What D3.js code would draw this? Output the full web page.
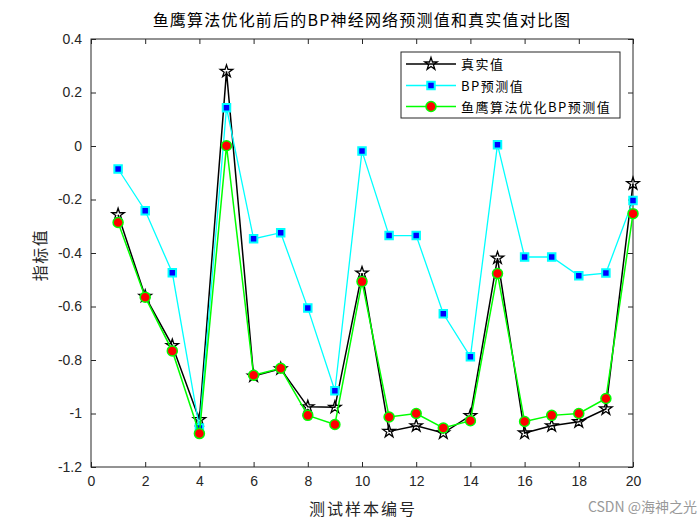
<!DOCTYPE html>
<html>
<head>
<meta charset="utf-8">
<script src="https://cdn.jsdelivr.net/npm/d3@7"></script>
<style>
  body { margin: 0; background: #fff; }
  text { font-family: "Liberation Sans", "Noto Sans CJK SC", sans-serif; }
  .cjk { font-family: "Noto Sans CJK SC", sans-serif; }
</style>
</head>
<body>
<div id="chart"></div>
<script>
// sample index
var samples = d3.range(1, 21);
// real values
var trueVals = [-0.257, -0.562, -0.746, -1.023, 0.279, -0.860, -0.833, -0.975, -0.977, -0.475,
  -1.067, -1.046, -1.073, -1.008, -0.419, -1.073, -1.046, -1.031, -0.983, -0.141];
// plain BP prediction
var bpVals = [-0.086, -0.242, -0.474, -1.054, 0.143, -0.347, -0.324, -0.606, -0.915, -0.019,
  -0.335, -0.335, -0.627, -0.788, 0.005, -0.415, -0.415, -0.485, -0.475, -0.204];
// optimised BP prediction
var optVals = [-0.286, -0.565, -0.766, -1.075, 0.001, -0.857, -0.831, -1.007, -1.041, -0.507,
  -1.013, -1.000, -1.054, -1.027, -0.477, -1.030, -1.007, -1.000, -0.944, -0.253];
var xTicks = d3.range(0, 21, 2);
var yTicks = [-1.2, -1, -0.8, -0.6, -0.4, -0.2, 0, 0.2, 0.4];
var legendNames = ['真实值', 'BP预测值', '鱼鹰算法优化BP预测值'];

var W = 700, H = 525;
var pl = 91, pr = 633, pt = 39, pb = 467;

var svg = d3.select('#chart').append('svg')
  .attr('width', W)
  .attr('height', H);

var x = d3.scaleLinear().domain([0, 20]).range([pl, pr]);
var y = d3.scaleLinear().domain([-1.2, 0.4]).range([pb, pt]);

// axes, ticks inward
var fmt = function(d) { return d === 0 ? '0' : String(+d.toFixed(1)); };
svg.append('g').attr('transform', 'translate(0,' + pb + ')')
  .call(d3.axisBottom(x).tickValues(xTicks).tickSizeInner(-5).tickSizeOuter(0).tickPadding(9))
  .call(function(g) { g.select('.domain').remove(); });
svg.append('g').attr('transform', 'translate(0,' + pt + ')')
  .call(d3.axisTop(x).tickValues(xTicks).tickSizeInner(-5).tickSizeOuter(0).tickFormat(''))
  .call(function(g) { g.select('.domain').remove(); });
svg.append('g').attr('transform', 'translate(' + pl + ',0)')
  .call(d3.axisLeft(y).tickValues(yTicks).tickSizeInner(-5).tickSizeOuter(0).tickPadding(9).tickFormat(fmt))
  .call(function(g) { g.select('.domain').remove(); });
svg.append('g').attr('transform', 'translate(' + pr + ',0)')
  .call(d3.axisRight(y).tickValues(yTicks).tickSizeInner(-5).tickSizeOuter(0).tickFormat(''))
  .call(function(g) { g.select('.domain').remove(); });
svg.selectAll('.tick text').attr('font-size', 14).attr('fill', '#262626');
svg.selectAll('.tick line').attr('stroke', '#262626');

svg.append('rect')
  .attr('x', pl).attr('y', pt)
  .attr('width', pr - pl).attr('height', pb - pt)
  .attr('fill', 'none').attr('stroke', '#262626').attr('stroke-width', 1);

var line = d3.line()
  .x(function(d, i) { return x(samples[i]); })
  .y(function(d) { return y(d); });

var star = d3.symbol().type(d3.symbolStar).size(48);
var square = d3.symbol().type(d3.symbolSquare).size(56);

// true values
svg.append('path').datum(trueVals)
  .attr('d', line).attr('fill', 'none').attr('stroke', '#000').attr('stroke-width', 1.5);
svg.selectAll('path.star').data(trueVals).enter().append('path')
  .attr('class', 'star')
  .attr('d', star)
  .attr('transform', function(d, i) { return 'translate(' + x(samples[i]) + ',' + y(d) + ')'; })
  .attr('fill', 'none').attr('stroke', '#000').attr('stroke-width', 1.3);

// BP predictions
svg.append('path').datum(bpVals)
  .attr('d', line).attr('fill', 'none').attr('stroke', '#00ffff').attr('stroke-width', 1.3);
svg.selectAll('path.sq').data(bpVals).enter().append('path')
  .attr('class', 'sq')
  .attr('d', square)
  .attr('transform', function(d, i) { return 'translate(' + x(samples[i]) + ',' + y(d) + ')'; })
  .attr('fill', '#0000ff').attr('stroke', '#00ffff').attr('stroke-width', 2);

// optimised predictions
svg.append('path').datum(optVals)
  .attr('d', line).attr('fill', 'none').attr('stroke', '#00ff00').attr('stroke-width', 1.5);
svg.selectAll('circle.opt').data(optVals).enter().append('circle')
  .attr('class', 'opt')
  .attr('cx', function(d, i) { return x(samples[i]); })
  .attr('cy', function(d) { return y(d); })
  .attr('r', 5)
  .attr('fill', '#ff0000').attr('stroke', '#00ff00').attr('stroke-width', 1.5);

// legend
var lg = svg.append('g');
lg.append('rect').attr('x', 401).attr('y', 52).attr('width', 219).attr('height', 66)
  .attr('fill', '#fff').attr('stroke', '#262626').attr('stroke-width', 1);
var lgY = [64, 85.5, 106.5];
lgY.forEach(function(yy, i) {
  var stroke = ['#000', '#00ffff', '#00ff00'][i];
  lg.append('line').attr('x1', 406).attr('x2', 456).attr('y1', yy).attr('y2', yy)
    .attr('stroke', stroke).attr('stroke-width', i === 1 ? 1.3 : 1.5);
  if (i === 0) {
    lg.append('path').attr('d', star).attr('transform', 'translate(431,' + yy + ')')
      .attr('fill', 'none').attr('stroke', '#000').attr('stroke-width', 1.3);
  } else if (i === 1) {
    lg.append('path').attr('d', square).attr('transform', 'translate(431,' + yy + ')')
      .attr('fill', '#0000ff').attr('stroke', '#00ffff').attr('stroke-width', 2);
  } else {
    lg.append('circle').attr('cx', 431).attr('cy', yy).attr('r', 5)
      .attr('fill', '#ff0000').attr('stroke', '#00ff00').attr('stroke-width', 1.5);
  }
  lg.append('text').attr('class', 'cjk').attr('x', 461).attr('y', yy + 5)
    .attr('font-size', 13).attr('letter-spacing', 1.5).attr('fill', '#000').text(legendNames[i]);
});

// titles
svg.append('text').attr('class', 'cjk').attr('x', (pl + pr) / 2).attr('y', 26)
  .attr('text-anchor', 'middle').attr('font-size', 16).attr('letter-spacing', 1.2).attr('fill', '#000')
  .text('鱼鹰算法优化前后的BP神经网络预测值和真实值对比图');
svg.append('text').attr('class', 'cjk').attr('x', (pl + pr) / 2 + 1).attr('y', 515)
  .attr('text-anchor', 'middle').attr('font-size', 16).attr('letter-spacing', 2).attr('fill', '#262626')
  .text('测试样本编号');
svg.append('text').attr('class', 'cjk')
  .attr('transform', 'translate(46,255) rotate(-90)')
  .attr('text-anchor', 'middle').attr('font-size', 16).attr('letter-spacing', 1.5).attr('fill', '#262626')
  .text('指标值');
svg.append('text').attr('class', 'cjk').attr('x', 697).attr('y', 512)
  .attr('text-anchor', 'end').attr('font-size', 14).attr('fill', '#999')
  .text('CSDN @海神之光');
</script>
</body>
</html>
